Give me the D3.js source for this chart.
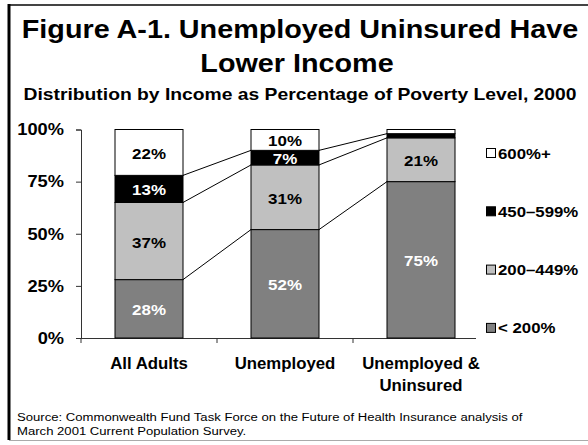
<!DOCTYPE html>
<html>
<head>
<meta charset="utf-8">
<script src="https://cdn.jsdelivr.net/npm/d3@7"></script>
<style>
  body { margin: 0; background: #fff; }
  text { font-family: Arial, "Liberation Sans", sans-serif; font-weight: bold; fill: #000; }
</style>
</head>
<body>
<svg width="588" height="445"></svg>
<script>
// chart data
const categories = ["All Adults", "Unemployed", "Unemployed & Uninsured"];
const categoryLines = [["All Adults"], ["Unemployed"], ["Unemployed &", "Uninsured"]];
const seriesNames = ["< 200%", "200–449%", "450–599%", "600%+"];
const below200 = [28, 52, 75];
const from200to449 = [37, 31, 21];
const from450to599 = [13, 7, 2];
const over600 = [22, 10, 2];
const yTicks = [0, 25, 50, 75, 100];

const colors = ["#808080", "#c0c0c0", "#000000", "#ffffff"];
const labelColors = ["#fff", "#000", "#fff", "#000"];

const svg = d3.select('svg');

// stretched text helper (the original is drawn a bit wide)
const addText = (parent, x, y, str, size, sx, anchor) =>
    parent.append('text')
        .attr('transform', "translate(" + x + "," + y + ") scale(" + sx + ",1)")
        .attr('text-anchor', anchor || 'middle')
        .style('font-size', size + 'px')
        .text(str);

// frame
svg.append('line').attr('x1', 9).attr('x2', 588).attr('y1', 5).attr('y2', 5)
    .attr('stroke', '#444').attr('stroke-width', 2);
svg.append('line').attr('x1', 9).attr('x2', 9).attr('y1', 4).attr('y2', 440)
    .attr('stroke', '#000').attr('stroke-width', 3);
svg.append('line').attr('x1', 9).attr('x2', 588).attr('y1', 440.5).attr('y2', 440.5)
    .attr('stroke', '#aaa').attr('stroke-width', 1);

// titles
addText(svg, 300, 38, 'Figure A-1. Unemployed Uninsured Have', 25, 1.15);
addText(svg, 297, 72, 'Lower Income', 25, 1.15);
addText(svg, 300, 100, 'Distribution by Income as Percentage of Poverty Level, 2000', 16.5, 1.17);

// data table
const table = categories.map((c, i) => ({
    cat: c,
    "< 200%": below200[i],
    "200–449%": from200to449[i],
    "450–599%": from450to599[i],
    "600%+": over600[i]
}));
const stacked = d3.stack().keys(seriesNames)(table);

const xscale = d3.scaleBand()
    .domain(categories)
    .range([81, 489])
    .paddingInner(0.5)
    .paddingOuter(0.25);
const yscale = d3.scaleLinear().domain([0, 100]).range([338, 129.5]);
const bw = xscale.bandwidth();

// y axis
const yaxisG = svg.append('g').attr('transform', 'translate(81,0)')
    .call(d3.axisLeft(yscale).tickValues(yTicks).tickSize(5).tickFormat(''));
yaxisG.selectAll('path, line').attr('stroke', '#333');
yTicks.forEach(t => {
    addText(svg, 64, yscale(t) + 5.8, t + '%', 16.3, 1.12, 'end');
});

// x axis line (stops short of last band edge like the original)
svg.append('line').attr('x1', 81).attr('x2', 476)
    .attr('y1', 338.5).attr('y2', 338.5).attr('stroke', '#333');
const bandEdges = categories.map(c => xscale(c) - xscale.step() * 0.25);
bandEdges.forEach(x => {
    svg.append('line').attr('x1', x).attr('x2', x)
        .attr('y1', 338).attr('y2', 343).attr('stroke', '#333');
});

// connector lines between bars
stacked.slice(0, 3).forEach(s => {
    for (let i = 0; i < categories.length - 1; i++) {
        svg.append('line')
            .attr('x1', xscale(categories[i]) + bw)
            .attr('y1', yscale(s[i][1]))
            .attr('x2', xscale(categories[i + 1]))
            .attr('y2', yscale(s[i + 1][1]))
            .attr('stroke', '#000').attr('stroke-width', 1);
    }
});

// bars
stacked.forEach((s, k) => {
    svg.append('g').selectAll('rect')
        .data(s)
        .enter()
        .append('rect')
        .attr('x', d => xscale(d.data.cat))
        .attr('y', d => yscale(d[1]))
        .attr('width', bw)
        .attr('height', d => yscale(d[0]) - yscale(d[1]))
        .attr('fill', colors[k])
        .attr('stroke', '#000')
        .attr('stroke-width', 1);
});

// bar labels
stacked.forEach((s, k) => {
    s.forEach(d => {
        const v = d[1] - d[0];
        if (v < 5) return;
        const cy = (yscale(d[0]) + yscale(d[1])) / 2;
        addText(svg, xscale(d.data.cat) + bw / 2, cy + 6.5, v + '%', 15, 1.13)
            .style('fill', labelColors[k]);
    });
});

// category labels
categories.forEach((c, i) => {
    categoryLines[i].forEach((line, j) => {
        addText(svg, xscale(c) + bw / 2, 369 + j * 22, line, 16, 1.05);
    });
});

// legend
const legendOrder = seriesNames.slice().reverse();
legendOrder.forEach((name, i) => {
    const k = seriesNames.indexOf(name);
    const cy = 153 + i * 58.3;
    svg.append('rect')
        .attr('x', 486.5).attr('y', cy - 4.5)
        .attr('width', 9).attr('height', 9)
        .attr('fill', colors[k]).attr('stroke', '#000').attr('stroke-width', 1);
    addText(svg, 498, cy + 5.5, name, 15, 1.12, 'start');
});

// source note
addText(svg, 17, 421, 'Source: Commonwealth Fund Task Force on the Future of Health Insurance analysis of', 11.5, 1.14, 'start')
    .style('font-weight', 'normal');
addText(svg, 17, 435, 'March 2001 Current Population Survey.', 11.5, 1.14, 'start')
    .style('font-weight', 'normal');
</script>
</body>
</html>
